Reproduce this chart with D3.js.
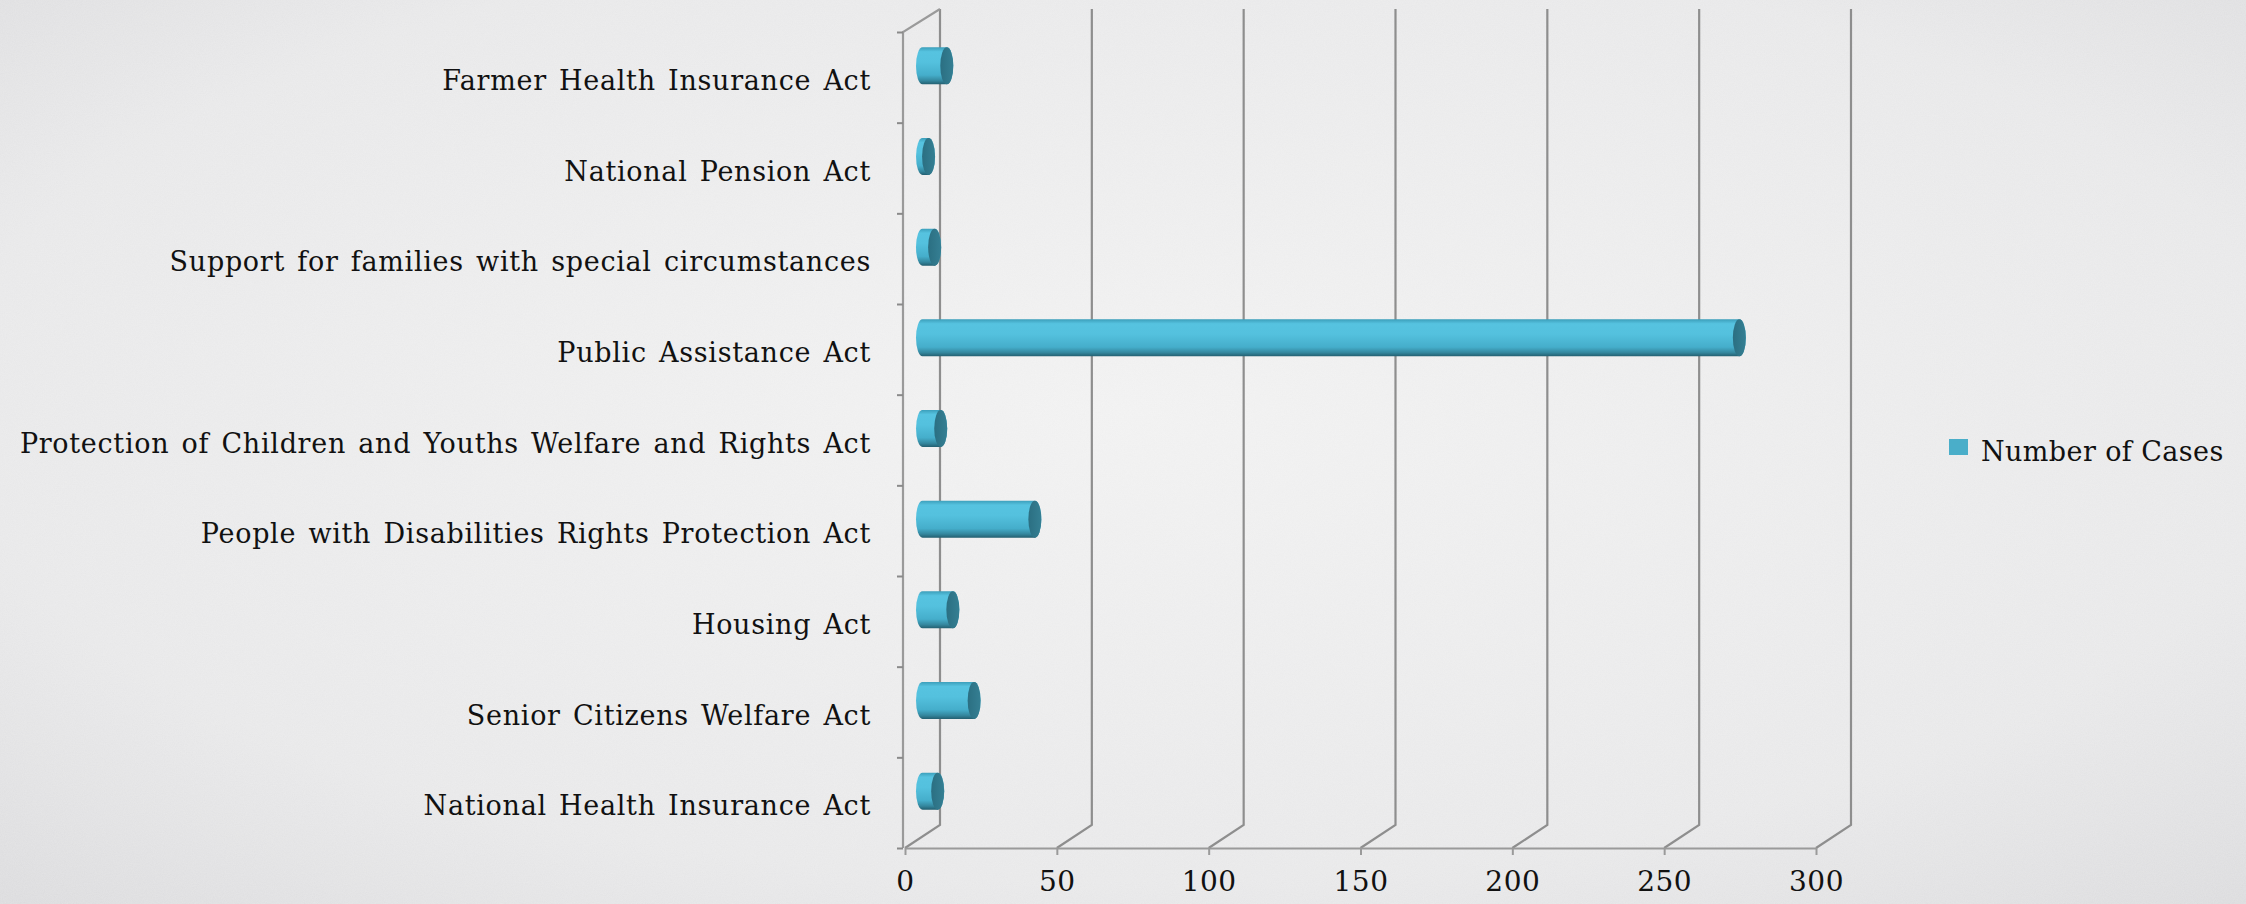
<!DOCTYPE html>
<html>
<head>
<meta charset="utf-8">
<script src="https://cdn.jsdelivr.net/npm/d3@7/dist/d3.min.js"></script>
<style>
  html, body { margin: 0; padding: 0; background: #e9e9e9; }
  svg { display: block; }
  .cat-label { font-family: "DejaVu Serif", "Liberation Serif", serif; font-size: 27px; letter-spacing: 0.7px; word-spacing: 3px; fill: #111; }
  .tick-label { font-family: "DejaVu Serif", "Liberation Serif", serif; font-size: 28px; letter-spacing: 0.5px; fill: #111; }
  .legend-label { font-family: "DejaVu Serif", "Liberation Serif", serif; font-size: 27px; letter-spacing: 0.4px; fill: #111; }
</style>
</head>
<body>
<div class="chart"></div>
<script>
// DATA (bottom to top, like the source spreadsheet)
var categories = [
	"National Health Insurance Act",
	"Senior Citizens Welfare Act",
	"Housing Act",
	"People with Disabilities Rights Protection Act",
	"Protection of Children and Youths Welfare and Rights Act",
	"Public Assistance Act",
	"Support for families with special circumstances",
	"National Pension Act",
	"Farmer Health Insurance Act"
];
var cases = [5, 17, 10, 37, 6, 269, 4, 2, 8];
var xTicks = [0, 50, 100, 150, 200, 250, 300];
var seriesName = "Number of Cases";

// LAYOUT
var width = 2246, height = 904;
var depth = { dx: 35, dy: -23 };   // 3D wall offset
var barR = 18.5, capR = 6.5;

var svg = d3.select(".chart")
	.append("svg")
	.attr("width", width)
	.attr("height", height);

var defs = svg.append("defs");

// background: soft vignette + paper noise
var bg = defs.append("radialGradient")
	.attr("id", "bg-grad")
	.attr("cx", "50%").attr("cy", "45%").attr("r", "75%");
bg.append("stop").attr("offset", "0%").attr("stop-color", "#f1f1f1");
bg.append("stop").attr("offset", "70%").attr("stop-color", "#e8e8e9");
bg.append("stop").attr("offset", "100%").attr("stop-color", "#dbdbdd");

var noise = defs.append("filter").attr("id", "noise")
	.attr("x", 0).attr("y", 0).attr("width", "100%").attr("height", "100%");
noise.append("feTurbulence")
	.attr("type", "fractalNoise")
	.attr("baseFrequency", 0.9)
	.attr("numOctaves", 2)
	.attr("seed", 3);
noise.append("feColorMatrix")
	.attr("type", "matrix")
	.attr("values", "0 0 0 0 1  0 0 0 0 1  0 0 0 0 1  0 0 0 0.35 -0.05");

// cylinder shading
var body = defs.append("linearGradient")
	.attr("id", "bar-body")
	.attr("x1", 0).attr("y1", 0).attr("x2", 0).attr("y2", 1);
[["0%", "#3c9fbb"], ["12%", "#56c3e0"], ["40%", "#54c1de"], ["75%", "#45aecb"], ["90%", "#34879e"], ["100%", "#235f70"]]
	.forEach(function(s) { body.append("stop").attr("offset", s[0]).attr("stop-color", s[1]); });

var cap = defs.append("linearGradient")
	.attr("id", "bar-cap")
	.attr("x1", 0).attr("y1", 0).attr("x2", 1).attr("y2", 0);
cap.append("stop").attr("offset", "0%").attr("stop-color", "#2b6f82");
cap.append("stop").attr("offset", "100%").attr("stop-color", "#357f93");

svg.append("rect")
	.attr("width", width).attr("height", height)
	.attr("fill", "url(#bg-grad)");
svg.append("rect")
	.attr("width", width).attr("height", height)
	.attr("filter", "url(#noise)")
	.attr("opacity", 0.6);

// SCALES
var x = d3.scaleLinear()
	.domain([0, 300])
	.range([905, 1816]);

var y = d3.scaleBand()
	.domain(categories)
	.range([848, 32]);

var yEdge = d3.scaleLinear()
	.domain([0, categories.length])
	.range([848, 32]);

var gridColor = "#8e8e8e";
var y0 = y.range()[0], y1 = y.range()[1];

// back wall gridlines + floor diagonals
var grid = svg.append("g").attr("class", "grid");
xTicks.forEach(function(t) {
	var xf = x(t), xb = x(t) + depth.dx;
	grid.append("polyline")
		.attr("points", [[xf, y0], [xb, y0 + depth.dy], [xb, y1 + depth.dy]].join(" "))
		.attr("fill", "none")
		.attr("stroke", gridColor)
		.attr("stroke-width", 2.2);
});

// left wall front edge + top diagonal
var x0 = x(0) - 2;
grid.append("polyline")
	.attr("points", [[x0, y0], [x0, y1], [x(0) + depth.dx, y1 + depth.dy]].join(" "))
	.attr("fill", "none")
	.attr("stroke", "#9a9a9a")
	.attr("stroke-width", 2.2);

// category tick marks
var yAxis = d3.axisLeft(yEdge)
	.tickValues(d3.range(categories.length + 1))
	.tickSize(6)
	.tickFormat("");
svg.append("g")
	.attr("transform", "translate(" + x0 + ",0)")
	.call(yAxis)
	.call(function(g) {
		g.select(".domain").remove();
		g.selectAll("line").attr("stroke", "#8a8a8a").attr("stroke-width", 2);
	});

// bottom axis
var xAxis = d3.axisBottom(x)
	.tickValues(xTicks)
	.tickSize(7)
	.tickSizeOuter(0)
	.tickPadding(16);
svg.append("g")
	.attr("transform", "translate(0," + y0 + ")")
	.call(xAxis)
	.call(function(g) {
		g.select(".domain").attr("stroke", "#9a9a9a").attr("stroke-width", 2.2);
		g.selectAll("line").attr("stroke", "#9a9a9a").attr("stroke-width", 2);
		g.selectAll("text")
			.attr("class", "tick-label")
			.attr("font-family", null)
			.attr("font-size", null)
			.attr("fill", null);
	});

// category labels
svg.append("g")
	.selectAll("text")
	.data(categories)
	.enter().append("text")
		.attr("class", "cat-label")
		.attr("x", x0 - 32)
		.attr("y", function(d) { return y(d) + y.bandwidth() / 2 + 5; })
		.attr("text-anchor", "end")
		.attr("dominant-baseline", "middle")
		.text(function(d) { return d; });

// cylinders at mid depth
var bars = svg.append("g").attr("class", "bars")
	.selectAll("g")
	.data(categories)
	.enter().append("g");

function cx0() { return x(0) + depth.dx / 2; }
function cxEnd(i) { return x(cases[i]) + depth.dx / 2; }
function cy(d) { return y(d) + y.bandwidth() / 2 + depth.dy / 2; }

bars.append("path")
	.attr("fill", "url(#bar-body)")
	.attr("d", function(d, i) {
		var a = cx0(), b = cxEnd(i), c = cy(d);
		return "M" + a + "," + (c - barR) +
			"L" + b + "," + (c - barR) +
			"A" + capR + "," + barR + " 0 0 1 " + b + "," + (c + barR) +
			"L" + a + "," + (c + barR) +
			"A" + capR + "," + barR + " 0 0 1 " + a + "," + (c - barR) + "Z";
	});

bars.append("ellipse")
	.attr("cx", function(d, i) { return cxEnd(i); })
	.attr("cy", cy)
	.attr("rx", capR)
	.attr("ry", barR)
	.attr("fill", "url(#bar-cap)");

// legend
var legend = svg.append("g").attr("transform", "translate(1949,439)");
legend.append("rect")
	.attr("width", 19).attr("height", 16)
	.attr("fill", "#4aaec9");
legend.append("text")
	.attr("class", "legend-label")
	.attr("x", 32)
	.attr("y", 22)
	.text(seriesName);
</script>
</body>
</html>
